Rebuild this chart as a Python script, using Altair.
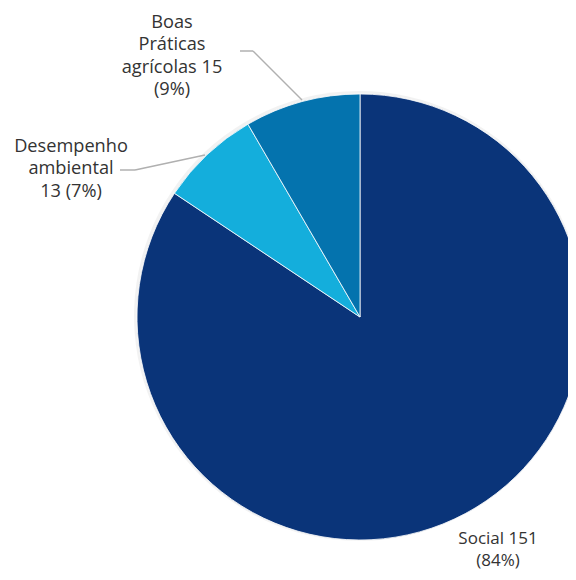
import altair as alt
import pandas as pd

categories = ["Social", "Desempenho ambiental", "Boas Práticas agrícolas"]
values = [151, 13, 15]
order = [1, 2, 3]
colors = ["#0a3479", "#14aedc", "#0473ae"]
label_social = ["Social 151", "(84%)"]
label_desemp = ["Desempenho", "ambiental", "13 (7%)"]
label_boas = ["Boas", "Práticas", "agrícolas 15", "(9%)"]

df = pd.DataFrame({"cat": categories, "value": values, "order": order})

W, H = 560, 564
cx, cy, R = 352, 309, 223
FONT = "Open Sans"
FS = 18.2
TXT = "#333333"
LINE = "#b0b0b0"

base = alt.Chart(df)

shadow = base.mark_arc(x=cx - 1, y=cy - 1, outerRadius=R + 2, color="#000000", opacity=0.05).encode(
    theta=alt.Theta("value:Q", stack=True),
    order=alt.Order("order:Q"),
)

pie = base.mark_arc(x=cx, y=cy, outerRadius=R, stroke="white", strokeWidth=0.8).encode(
    theta=alt.Theta("value:Q", stack=True),
    order=alt.Order("order:Q"),
    color=alt.Color("cat:N", scale=alt.Scale(domain=categories, range=colors), legend=None),
)

one = pd.DataFrame({"k": [0]})


def label(lines, x, y, lh=22.3, fs=FS):
    return alt.Chart(one).mark_text(
        font=FONT, fontSize=fs, color=TXT, align="center", baseline="top", lineHeight=lh
    ).encode(x=alt.value(x), y=alt.value(y), text=alt.value(lines))


def seg(x1, y1, x2, y2):
    return alt.Chart(one).mark_rule(color=LINE, strokeWidth=1.5).encode(
        x=alt.value(x1), y=alt.value(y1), x2=alt.value(x2), y2=alt.value(y2)
    )


layers = [
    shadow,
    pie,
    seg(232, 43, 245, 43),
    seg(245, 43, 294, 92),
    seg(112, 162, 127, 162),
    seg(127, 162, 197, 147),
    label(label_boas, 164, 6),
    label(label_desemp, 63, 130),
    label(label_social, 490, 523, lh=22, fs=17),
]

chart = alt.layer(*layers).properties(
    width=W, height=H, padding=0, autosize=alt.AutoSizeParams(type="none")
).configure_view(stroke=None)

chart.save("out.html", embed_options={"renderer": "svg", "actions": False})
